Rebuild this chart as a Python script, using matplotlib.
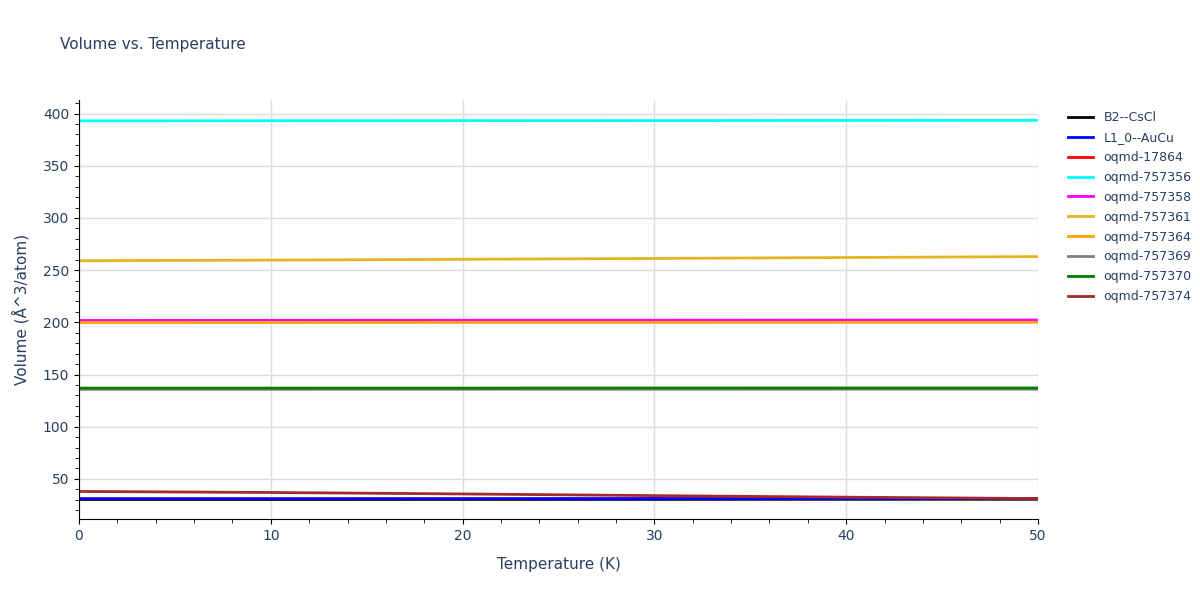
import matplotlib
matplotlib.use("Agg")
import matplotlib.pyplot as plt
from matplotlib.ticker import MultipleLocator

T = [0, 10, 20, 30, 40, 50]
names = ["B2--CsCl", "L1_0--AuCu", "oqmd-17864", "oqmd-757356", "oqmd-757358",
         "oqmd-757361", "oqmd-757364", "oqmd-757369", "oqmd-757370", "oqmd-757374"]
colors = ["black", "blue", "red", "cyan", "magenta", "#E6B422", "orange", "gray", "green", "brown"]
v_b2 = [30.3, 30.3, 30.4, 30.4, 30.5, 30.5]
v_l10 = [31.0, 31.0, 31.0, 31.1, 31.1, 31.2]
v_17864 = [30.9, 30.9, 30.9, 31.0, 31.0, 31.1]
v_356 = [393.0, 393.1, 393.2, 393.3, 393.4, 393.5]
v_358 = [201.8, 201.9, 202.0, 202.0, 202.1, 202.2]
v_361 = [259.0, 259.6, 260.4, 261.2, 262.1, 263.0]
v_364 = [199.8, 199.8, 199.9, 199.9, 200.0, 200.0]
v_369 = [135.8, 135.8, 135.9, 135.9, 136.0, 136.0]
v_370 = [137.0, 137.0, 137.0, 137.1, 137.1, 137.1]
v_374 = [38.0, 37.0, 35.6, 34.0, 32.5, 31.2]
series = [v_b2, v_l10, v_17864, v_356, v_358, v_361, v_364, v_369, v_370, v_374]
zorders = [2.1, 2.3, 2.0, 2, 2, 2, 2, 2, 2, 2.4]

fig = plt.figure(figsize=(12, 6), dpi=100)
ax = fig.add_axes([79/1200, 81/600, 959/1200, 419/600])
for n, c, v, z in zip(names, colors, series, zorders):
    ax.plot(T, v, color=c, lw=2, label=n, zorder=z)
ax.set_xlim(0, 50)
ax.set_ylim(11.6, 413)
ax.xaxis.set_major_locator(MultipleLocator(10))
ax.xaxis.set_minor_locator(MultipleLocator(2))
ax.yaxis.set_major_locator(MultipleLocator(50))
ax.yaxis.set_minor_locator(MultipleLocator(10))
ax.grid(True, which="major", color="#dddddd", lw=1)
for s in ["top", "right"]:
    ax.spines[s].set_visible(False)
tc = "#2a3f5f"
ax.tick_params(colors=tc, labelsize=10)
ax.tick_params(which="both", color="black")
ax.tick_params(which="minor", length=3)
ax.set_xlabel("Temperature (K)", color=tc, fontsize=11, labelpad=10)
ax.set_ylabel("Volume (Å^3/atom)", color=tc, fontsize=11, labelpad=10)
fig.text(60/1200, 1 - 45/600, "Volume vs. Temperature", color=tc, fontsize=11, va="center")
leg = ax.legend(loc="upper left", bbox_to_anchor=(1.02, 1.0), frameon=False, fontsize=9,
                handlelength=2, labelspacing=0.55)
for t in leg.get_texts():
    t.set_color(tc)
fig.savefig("out.png")
